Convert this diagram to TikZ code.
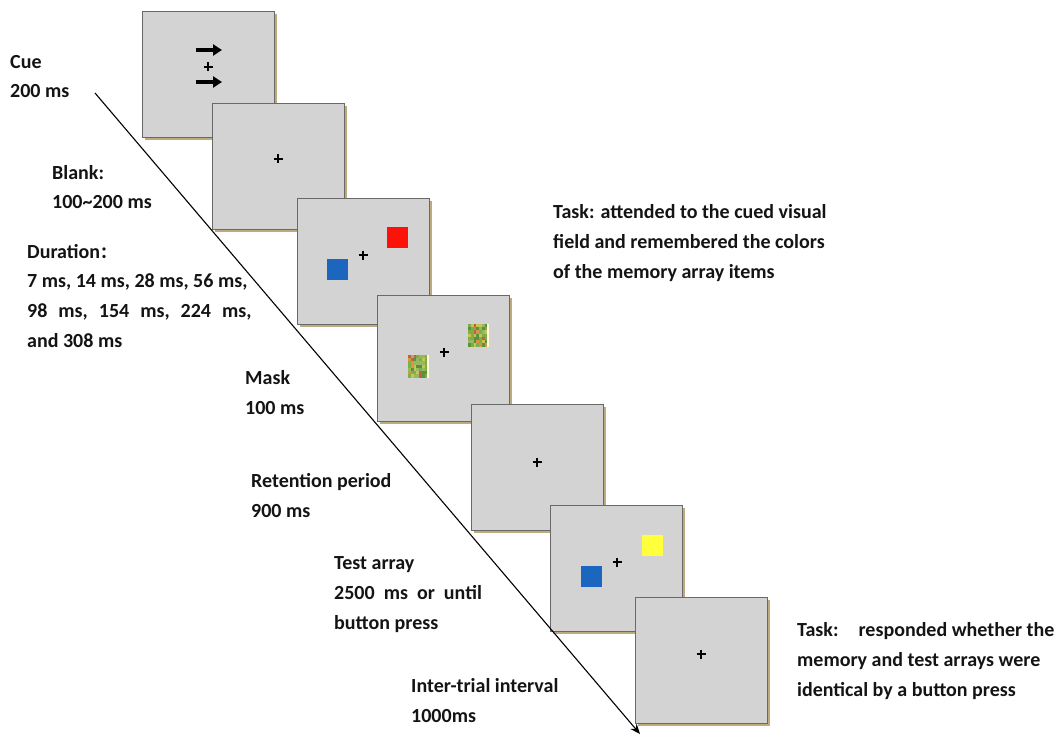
\documentclass[tikz,border=0pt]{standalone}
\usepackage{fontspec}
\setmainfont{Carlito}
\newfontfamily\cjk{Noto Sans CJK SC}
\usetikzlibrary{arrows.meta,shadows}
\definecolor{panelfill}{RGB}{211,211,211}
\definecolor{paneldraw}{RGB}{105,105,105}
\definecolor{shadowtan}{RGB}{188,172,125}
\definecolor{sqblue}{RGB}{28,102,192}
\definecolor{sqred}{RGB}{252,18,8}
\definecolor{sqyellow}{RGB}{255,255,60}
\definecolor{txt}{RGB}{20,20,20}
\definecolor{mA}{RGB}{125,175,70}
\definecolor{mB}{RGB}{90,145,60}
\definecolor{mC}{RGB}{215,150,70}
\definecolor{mD}{RGB}{195,95,70}
\definecolor{mE}{RGB}{200,195,85}
\definecolor{mF}{RGB}{150,185,95}
\definecolor{mG}{RGB}{105,130,70}
\pgfmathdeclarerandomlist{maskcols}{{mA}{mB}{mC}{mD}{mE}{mF}{mG}{mA}{mB}{mF}{mA}}
\tikzset{
  panel/.style={draw=paneldraw, fill=panelfill, line width=0.8pt,
    minimum width=132pt, minimum height=126pt, inner sep=0pt, anchor=north west,
    drop shadow={shadow xshift=3pt, shadow yshift=-3pt, fill=shadowtan, opacity=1}},
  lbl/.style={anchor=base west, align=left, inner sep=0pt, text=txt,
    font=\fontsize{20}{29.8}\selectfont\bfseries},
  fix/.style={line width=1.6pt, black},
  sq/.style={minimum width=21pt, minimum height=21pt, inner sep=0pt, anchor=north west},
  timeline/.style={line width=1.1pt, black, -{Stealth[length=10pt,width=8pt]}},
  cuearrow/.style={line width=3.2pt, black, -{Triangle[length=9pt,width=11pt]}}
}
\newcommand{\fixcross}[2]{\draw[fix] (#1-4.5,#2) -- (#1+4.5,#2); \draw[fix] (#1,#2-4.5) -- (#1,#2+4.5);}
\newcommand{\masknoise}[2]{%
  \foreach \i in {0,...,6}{\foreach \j in {0,...,6}{%
    \pgfmathrandomitem{\mc}{maskcols}%
    \fill[\mc] (#1+\i*2.8,#2+\j*3.2) rectangle ++(2.9,3.3);}}%
  \fill[white!85!yellow] (#1+19,#2) rectangle ++(2,22.5);}
\begin{document}
\begin{tikzpicture}[x=1pt,y=-1pt]
\useasboundingbox[fill=white] (0,0) rectangle (1064,735);
\pgfmathsetseed{7}

% panels
\node[panel] (p1) at (142,11) {};
\draw[cuearrow] (196,50) -- (222,50);
\draw[cuearrow] (196,82) -- (222,82);
\fixcross{208}{67}

\node[panel] (p2) at (212,103) {};
\fixcross{278}{159}

\node[panel] (p3) at (297,198) {};
\node[sq, fill=sqblue] (b1) at (327,259) {};
\node[sq, fill=sqred] (r1) at (387,227) {};
\fixcross{363}{255}

\node[panel] (p4) at (377,295) {};
\masknoise{408}{355}
\masknoise{468}{324}
\fixcross{444}{352}

\node[panel] (p5) at (471,404) {};
\fixcross{537}{462}

\node[panel] (p6) at (550,505) {};
\node[sq, fill=sqblue] (b2) at (581,566) {};
\node[sq, fill=sqyellow] (y2) at (642,535) {};
\fixcross{617}{562}

\node[panel] (p7) at (635,597) {};
\fixcross{701}{654}

% timeline
\coordinate (ts) at (95,93);
\coordinate (te) at (640,734);
\draw[timeline] (ts) -- (te);

% labels (anchored at the baseline of the last line)
\node[lbl] (tcue) at (10,98) {Cue\\200 ms};
\node[lbl] (tblank) at (52,209) {Blank:\\100\textasciitilde200 ms};
\node[lbl] (tdur) at (27,347.5) {Duration{\cjk\fontsize{16}{16}\selectfont ：}\\7 ms, 14 ms, 28 ms, 56 ms,\\98\hspace{0.55em}ms,\hspace{0.55em}154\hspace{0.55em}ms,\hspace{0.55em}224\hspace{0.55em}ms,\\and 308 ms};
\node[lbl] (tmask) at (245,414.5) {Mask\\100 ms};
\node[lbl] (tret) at (251,517.5) {Retention period\\900 ms};
\node[lbl] (ttest) at (334,629.5) {Test array\\2500\ \ ms\ \ or\ \ until\\button press};
\node[lbl] (titi) at (411,722) {Inter-trial interval\\1000ms};
\node[lbl] (ttask1) at (553,278.5) {Task: attended to the cued visual\\field and remembered the colors\\of the memory array items};
\node[lbl] (ttask2) at (797,696.5) {Task:\hspace{1.0em}responded whether the\\memory and test arrays were\\identical by a button press};
\end{tikzpicture}
\end{document}
